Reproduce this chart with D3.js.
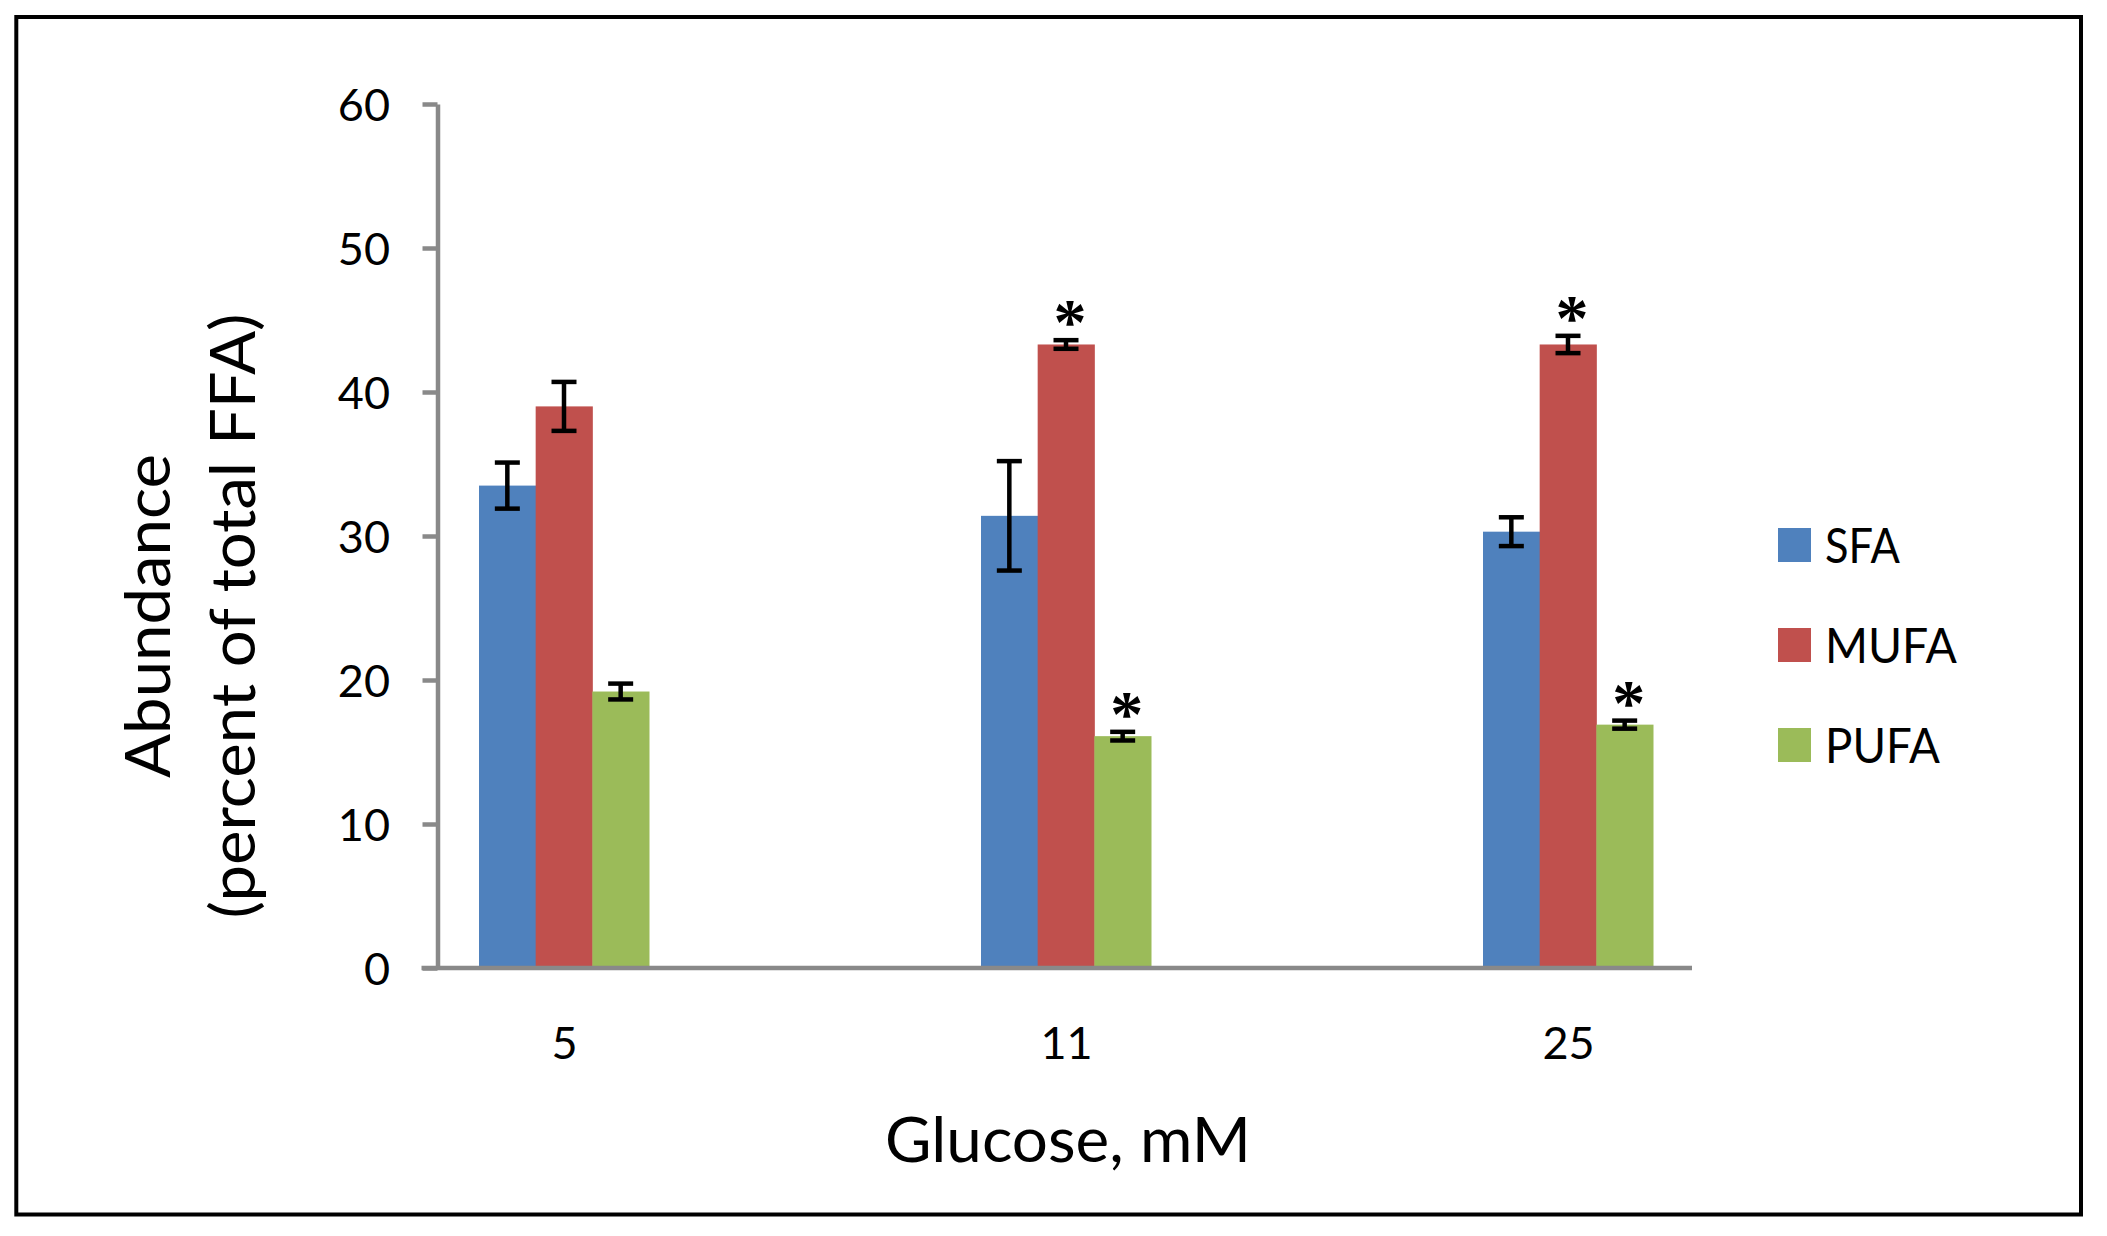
<!DOCTYPE html>
<html>
<head>
<meta charset="utf-8">
<script src="https://cdn.jsdelivr.net/npm/d3@7"></script>
<style>
  html, body { margin: 0; padding: 0; background: #ffffff; }
  svg { display: block; }
</style>
</head>
<body>
<div id="chart"></div>
<script>
// ---------- data ----------
const categories = ["5", "11", "25"];
const seriesNames = ["SFA", "MUFA", "PUFA"];
const sfaValues  = [33.5, 31.4, 30.3];
const sfaErrors  = [1.6, 3.8, 1.0];
const mufaValues = [39.0, 43.3, 43.3];
const mufaErrors = [1.7, 0.3, 0.6];
const pufaValues = [19.2, 16.1, 16.9];
const pufaErrors = [0.55, 0.3, 0.28];
const sfaSignificant  = [false, false, false];
const mufaSignificant = [false, true, true];
const pufaSignificant = [false, true, true];
const yTickValues = [0, 10, 20, 30, 40, 50, 60];
const xTitle = "Glucose, mM";
const yTitleLine1 = "Abundance";
const yTitleLine2 = "(percent of total FFA)";

// ---------- layout / style ----------
const W = 2107, H = 1236;
const colors = { SFA: "#4F81BD", MUFA: "#C0504D", PUFA: "#9BBB59" };
const axisColor = "#898989";
const FONT = "Lato, 'Open Sans', sans-serif";

const seriesTable = [
  { name: "SFA",  values: sfaValues,  errors: sfaErrors,  sig: sfaSignificant },
  { name: "MUFA", values: mufaValues, errors: mufaErrors, sig: mufaSignificant },
  { name: "PUFA", values: pufaValues, errors: pufaErrors, sig: pufaSignificant }
];
const flat = [];
seriesTable.forEach(s => categories.forEach((c, i) => {
  flat.push({ series: s.name, cat: c, value: s.values[i], err: s.errors[i], sig: s.sig[i] });
}));

const svg = d3.select("#chart").append("svg")
  .attr("width", W).attr("height", H)
  .attr("viewBox", `0 0 ${W} ${H}`);

svg.append("rect").attr("width", W).attr("height", H).attr("fill", "#ffffff");

// outer frame
svg.append("rect")
  .attr("x", 16.3).attr("y", 17)
  .attr("width", 2064.7).attr("height", 1197.5)
  .attr("fill", "none").attr("stroke", "#000").attr("stroke-width", 4);

// scales
const y = d3.scaleLinear().domain([0, 60]).range([968, 104]);
const x = d3.scalePoint().domain(categories).range([564, 1568]);
const xs = d3.scaleBand().domain(seriesNames).range([-85, 85]).padding(0);

const axisX = 437.5;
const plotRight = 1692;

// bars
svg.append("g").selectAll("rect").data(flat).join("rect")
  .attr("x", d => x(d.cat) + xs(d.series))
  .attr("width", xs.bandwidth() + 0.5)
  .attr("y", d => y(d.value))
  .attr("height", d => y(0) - y(d.value))
  .attr("fill", d => colors[d.series]);

// y axis
const yAxis = d3.axisLeft(y).tickValues(yTickValues).tickSize(15).tickSizeOuter(0).tickPadding(32.5);
const gy = svg.append("g").attr("transform", `translate(${axisX},0)`).call(yAxis);
gy.select(".domain").attr("stroke", axisColor).attr("stroke-width", 4.5);
gy.selectAll(".tick line").attr("stroke", axisColor).attr("stroke-width", 4.5);
gy.selectAll(".tick text")
  .attr("font-family", FONT).attr("font-size", 45).attr("fill", "#000")
  .attr("dy", "0.36em");

// x axis baseline
svg.append("line")
  .attr("x1", axisX - 16).attr("x2", plotRight)
  .attr("y1", y(0)).attr("y2", y(0))
  .attr("stroke", axisColor).attr("stroke-width", 4.5);

// x tick labels
const xAxis = d3.axisBottom(x).tickSize(0).tickSizeOuter(0);
const gx = svg.append("g").attr("transform", `translate(0,${y(0)})`).call(xAxis);
gx.select(".domain").remove();
gx.selectAll(".tick text")
  .attr("font-family", FONT).attr("font-size", 45).attr("fill", "#000")
  .attr("y", 1059 - 968).attr("dy", 0);

// error bars
const capW = 25;
const eb = svg.append("g").attr("stroke", "#000").attr("stroke-width", 4.5).attr("fill", "none");
flat.forEach(d => {
  const cx = x(d.cat) + xs(d.series) + xs.bandwidth() / 2;
  const yt = y(d.value + d.err), yb = y(d.value - d.err);
  eb.append("line").attr("x1", cx).attr("x2", cx).attr("y1", yt).attr("y2", yb);
  eb.append("line").attr("x1", cx - capW / 2).attr("x2", cx + capW / 2).attr("y1", yt).attr("y2", yt);
  eb.append("line").attr("x1", cx - capW / 2).attr("x2", cx + capW / 2).attr("y1", yb).attr("y2", yb);
});

// significance stars
svg.append("g").selectAll("text").data(flat.filter(d => d.sig)).join("text")
  .attr("x", d => x(d.cat) + xs(d.series) + xs.bandwidth() / 2 + 4)
  .attr("y", d => y(d.value + d.err) + 4)
  .attr("text-anchor", "middle")
  .attr("font-family", "'Liberation Serif', serif")
  .attr("font-weight", "bold")
  .attr("font-size", 66)
  .attr("fill", "#000")
  .text("*");

// axis titles
function fitText(sel, len) {
  sel.attr("textLength", len).attr("lengthAdjust", "spacingAndGlyphs");
}
const xt = svg.append("text")
  .attr("x", 1068).attr("y", 1162)
  .attr("text-anchor", "middle")
  .attr("font-family", FONT).attr("font-size", 62).attr("fill", "#000")
  .text(xTitle);
fitText(xt, 366);

const yt1 = svg.append("text")
  .attr("transform", "translate(170,616) rotate(-90)")
  .attr("text-anchor", "middle")
  .attr("font-family", FONT).attr("font-size", 62).attr("fill", "#000")
  .text(yTitleLine1);
fitText(yt1, 324);
const yt2 = svg.append("text")
  .attr("transform", "translate(255,616) rotate(-90)")
  .attr("text-anchor", "middle")
  .attr("font-family", FONT).attr("font-size", 62).attr("fill", "#000")
  .text(yTitleLine2);
fitText(yt2, 605);

// legend
const legendWidths = { SFA: 75, MUFA: 132, PUFA: 115 };
const legY = d3.scalePoint().domain(seriesNames).range([528, 728]);
const lg = svg.append("g");
seriesNames.forEach(s => {
  lg.append("rect")
    .attr("x", 1778).attr("y", legY(s))
    .attr("width", 33).attr("height", 34)
    .attr("fill", colors[s]);
  const t = lg.append("text")
    .attr("x", 1825).attr("y", legY(s) + 35)
    .attr("font-family", FONT).attr("font-size", 47.5).attr("fill", "#000")
    .text(s);
  fitText(t, legendWidths[s]);
});
</script>
</body>
</html>
